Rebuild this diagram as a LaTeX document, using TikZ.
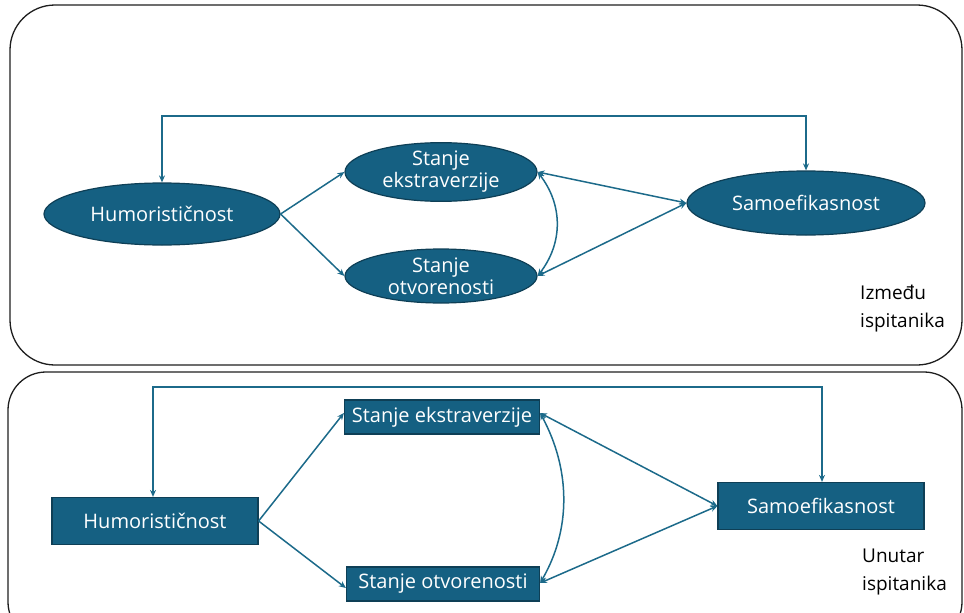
\documentclass[tikz,border=0pt]{standalone}
\usepackage{fontspec}
\setmainfont{Open Sans}
\usetikzlibrary{shapes.geometric,arrows.meta,calc}
\definecolor{nodefill}{HTML}{156082}
\definecolor{nodeline}{HTML}{0E3F56}
\definecolor{arrcol}{HTML}{1C6A8A}
\definecolor{frame}{HTML}{1E1E1E}
\begin{document}
\begin{tikzpicture}[x=1pt,y=-1pt,
  lbl/.style={font=\fontsize{20}{25}\selectfont, text=white},
  ell/.style={ellipse, draw=nodeline, line width=1.2pt, fill=nodefill, inner sep=0pt, lbl, align=center},
  rbox/.style={rectangle, draw=nodeline, line width=1.2pt, fill=nodefill, inner sep=0pt, lbl, align=center},
  arr/.style={draw=arrcol, line width=1.5pt, -{Stealth[length=7pt,width=6pt]}},
  darr/.style={draw=arrcol, line width=1.5pt, {Stealth[length=7pt,width=6pt]}-{Stealth[length=7pt,width=6pt]}},
  panel/.style={draw=frame, line width=1.3pt},
  note/.style={font=\fontsize{19}{28}\selectfont, text=black, align=left, anchor=north west, inner sep=0pt}
]
\useasboundingbox (0,0) rectangle (964,613);
% panels
\draw[panel, rounded corners=45pt] (10,5) rectangle (962,365);
\draw[panel, rounded corners=38pt] (8,372) rectangle (962,640);

% upper panel
\node[ell, minimum width=236pt, minimum height=62pt] (h1) at (162,214) {Humoristi\v{c}nost};
\node[ell, minimum width=192pt, minimum height=54pt] (e1) at (441,172) {Stanje\\[-3pt]ekstraverzije};
\node[ell, minimum width=192pt, minimum height=54pt] (o1) at (441,276) {Stanje\\[-3pt]otvorenosti};
\node[ell, minimum width=238pt, minimum height=64pt] (s1) at (806,203) {Samoefikasnost};
\node[note] (n1) at (860,285) {Izme\dj u\\ispitanika};

\draw[arr] (h1.east) -- (e1.west);
\draw[arr] (h1.east) -- (o1.west);
\draw[darr] (e1.east) -- (s1.west);
\draw[darr] (o1.east) -- (s1.west);
\draw[darr] (e1.east) .. controls (563,205) and (563,243) .. (o1.east);
\draw[darr] (h1.north) -- (h1.north |- 0,116) -| (s1.north);

% lower panel
\node[rbox, minimum width=206pt, minimum height=47pt] (h2) at (155,521) {Humoristi\v{c}nost};
\node[rbox, minimum width=195pt, minimum height=34pt] (e2) at (442,417) {Stanje ekstraverzije};
\node[rbox, minimum width=193pt, minimum height=34pt] (o2) at (443,584) {Stanje otvorenosti};
\node[rbox, minimum width=206pt, minimum height=47pt] (s2) at (821,506) {Samoefikasnost};
\node[note] (n2) at (862,549) {Unutar\\ispitanika};

\draw[arr] (h2.east) -- ([yshift=4pt]e2.west);
\draw[arr] (h2.east) -- ([yshift=-4pt]o2.west);
\draw[darr] ([yshift=4pt]e2.east) -- (s2.west);
\draw[darr] ([yshift=1pt]o2.east) -- (s2.west);
\draw[darr] ([yshift=4pt]e2.east) .. controls (571,470) and (571,530) .. ([yshift=1pt]o2.east);
\draw[darr] ([xshift=-2pt]h2.north) -- ([xshift=-2pt]h2.north |- 0,387) -| ([xshift=1pt]s2.north);
\end{tikzpicture}
\end{document}
